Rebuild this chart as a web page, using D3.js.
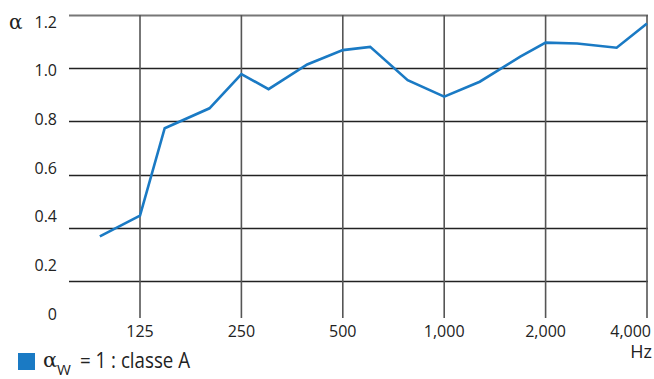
<!DOCTYPE html>
<html><head><meta charset="utf-8">
<script src="https://cdn.jsdelivr.net/npm/d3@7"></script>
<style>
html,body{margin:0;padding:0;background:#fff;}
svg{display:block;font-family:"Open Sans",sans-serif;}
</style></head>
<body><svg id="c" width="654" height="379"></svg>
<script>
// data
const freqs  = [95, 125, 148, 201, 250, 301, 392, 500, 603, 779, 1000, 1275, 1682, 2000, 2480, 3250, 4000];
const alphas = [0.367, 0.445, 0.774, 0.849, 0.978, 0.921, 1.014, 1.068, 1.080, 0.955, 0.893, 0.949, 1.043, 1.096, 1.093, 1.077, 1.168];
const xTicks = [125, 250, 500, 1000, 2000, 4000];
const xTickLabels = ["125", "250", "500", "1,000", "2,000", "4,000"];
const yTicks = [0, 0.2, 0.4, 0.6, 0.8, 1.0, 1.2];
const yTickLabels = ["0", "0.2", "0.4", "0.6", "0.8", "1.0", "1.2"];
const legendLabel = "= 1 : classe A";

const svg = d3.select("#c");
const x = d3.scaleLog().domain([125, 4000]).range([140, 647]);
const y = d3.scaleLinear().domain([0, 1.2]).range([334, 15]);
const yLab = d3.scaleLinear().domain([0, 1.2]).range([314, 22]);
const left = 69, right = 648, vBottom = 318;
const blue = "#1a7ac4";

// horizontal grid
svg.append("g").selectAll("line").data(yTicks.filter(d => d > 0)).join("line")
  .attr("x1", left).attr("x2", right)
  .attr("y1", d => Math.round(y(d)) + 0.5).attr("y2", d => Math.round(y(d)) + 0.5)
  .attr("stroke", d => d === 1.2 ? "#777" : "#222")
  .attr("stroke-width", d => d === 1.2 ? 2.2 : 1.3);

// vertical grid
svg.append("g").selectAll("line").data(xTicks).join("line")
  .attr("x1", d => x(d)).attr("x2", d => x(d))
  .attr("y1", y(1.2)).attr("y2", vBottom)
  .attr("stroke", "#555").attr("stroke-width", 1.6);

// y labels
svg.append("g").selectAll("text").data(yTicks).join("text")
  .attr("x", 57).attr("y", d => yLab(d))
  .attr("dy", "0.35em").attr("text-anchor", "end")
  .attr("font-size", 16).attr("fill", "#222")
  .text((d, i) => yTickLabels[i]);

svg.append("text").attr("x", 9).attr("y", yLab(1.2)).attr("dy", "0.35em")
  .attr("font-size", 20).attr("fill", "#222").attr("font-family", "DejaVu Serif, serif").text("α");

// x labels
svg.append("g").selectAll("text").data(xTicks).join("text")
  .attr("x", d => d === 4000 ? 651 : x(d)).attr("y", 331)
  .attr("dy", "0.35em").attr("text-anchor", d => d === 4000 ? "end" : "middle")
  .attr("font-size", 16).attr("fill", "#222")
  .text((d, i) => xTickLabels[i]);

svg.append("text").attr("x", 652).attr("y", 352).attr("dy", "0.35em")
  .attr("text-anchor", "end").attr("font-size", 18).attr("fill", "#222").text("Hz");

// line
const line = d3.line().x((d, i) => x(freqs[i])).y(d => y(d));
svg.append("path").datum(alphas).attr("d", line)
  .attr("fill", "none").attr("stroke", blue).attr("stroke-width", 2.6)
  .attr("stroke-linejoin", "miter");

// legend
svg.append("rect").attr("x", 18).attr("y", 353).attr("width", 17).attr("height", 17).attr("fill", blue);
svg.append("text").attr("x", 43).attr("y", 367).attr("font-size", 21).attr("fill", "#222")
  .attr("font-family", "DejaVu Serif, serif").text("α");
svg.append("text").attr("x", 57).attr("y", 375).attr("font-size", 15).attr("fill", "#222")
  .text("W");
svg.append("text").attr("x", 80).attr("y", 368).attr("font-size", 21).attr("fill", "#222")
  .attr("textLength", 110).attr("lengthAdjust", "spacingAndGlyphs").text(legendLabel);
</script></body></html>
